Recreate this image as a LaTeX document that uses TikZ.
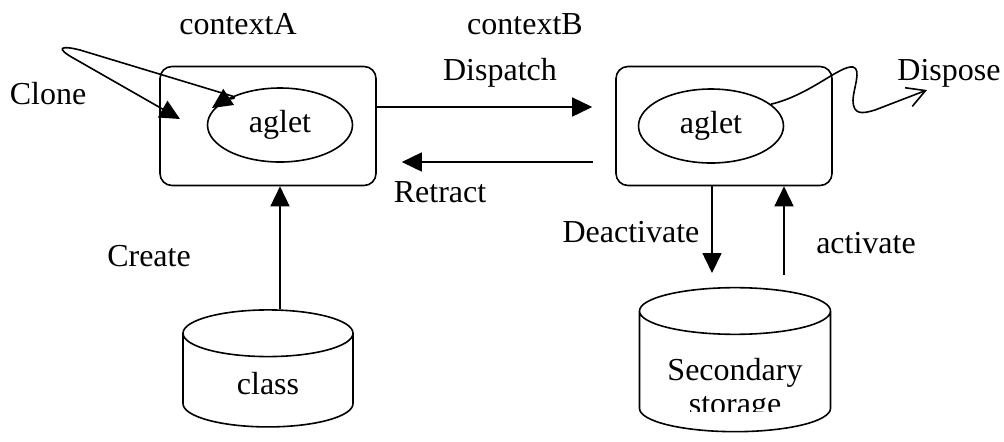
\documentclass[tikz,border=0pt]{standalone}
\usepackage{fontspec}
\setmainfont{Liberation Serif}
\usetikzlibrary{shapes.geometric,arrows.meta}

\tikzset{
  ctxbox/.style={draw, line width=0.8pt, rounded corners=6pt, minimum width=108pt, minimum height=59.5pt},
  agletnode/.style={draw, ellipse, line width=0.8pt, minimum width=72.5pt, minimum height=37pt, inner sep=0pt},
  store/.style={draw, cylinder, shape border rotate=90, line width=0.8pt, aspect=3.5},
  arr/.style={line width=0.8pt, -{Triangle[length=10pt,width=9.5pt]}}
}

\begin{document}
\begin{tikzpicture}[x=0.5pt,y=-0.5pt, every node/.style={font=\fontsize{16}{17}\selectfont}]
\useasboundingbox (0,0) rectangle (1004,441);

% contextA
\node (ctxAlbl) at (238,24) {contextA};
\node[ctxbox] (ctxA) at (268,126) {};
\node[agletnode] (aglA) at (280,125) {aglet};

% contextB
\node (ctxBlbl) at (525,24) {contextB};
\node[ctxbox] (ctxB) at (724,126) {};
\node[agletnode] (aglB) at (711,126) {aglet};

% Dispatch / Retract
\draw[arr] ([yshift=9.5pt]ctxA.east) -- ([xshift=-11.5pt,yshift=9.5pt]ctxB.west);
\node (dispatch) at (500,73) {Dispatch};
\draw[arr] ([xshift=-11pt,yshift=-18pt]ctxB.west) -- ([xshift=12.5pt,yshift=-18pt]ctxA.east);
\node (retract) at (440,192) {Retract};

% Clone
\coordinate (cloneLow) at (180,119);
\coordinate (cloneUp) at (212,108);
\draw[line width=0.8pt, {Triangle[length=10pt,width=9.5pt]}-{Triangle[length=10pt,width=9.5pt]}]
  (cloneLow) -- (75,59) .. controls (55,48) and (60,45) .. (80,50) -- (232,96)
  .. controls (240,99) and (224,100) .. (cloneUp);
\node (clone) at (48,94) {Clone};

% Dispose
\coordinate (disposeTip) at (927,90);
\draw[line width=0.8pt, -{Straight Barb[length=9pt,width=10pt]}]
  (aglB.20) .. controls (810,95) and (840,65) .. (853,67)
  .. controls (862,69) and (853,90) .. (853,100)
  .. controls (853,115) and (862,114) .. (875,110) -- (disposeTip);
\node (dispose) at (949,73) {Dispose};

% class storage
\node[store, minimum width=85pt, minimum height=58.5pt] (class) at (268,385) {};
\node (classlbl) at (268,384) {class};
\draw[arr] ([xshift=6pt]class.north) -- ([xshift=6pt]ctxA.south);
\node (create) at (149,256) {Create};

% secondary storage
\node[store, minimum width=95.5pt, minimum height=72pt] (secstore) at (735,376) {};
\begin{scope}
  \clip (600,290) rectangle (860,411);
  \node[align=center] (seclbl) at (735,390) {Secondary\\storage};
\end{scope}
\coordinate (deacEnd) at (712,273);
\coordinate (actStart) at (784,275);
\draw[arr] ([xshift=-6pt]ctxB.south) -- (deacEnd);
\draw[arr] (actStart) -- ([xshift=30pt]ctxB.south);
\node (deactivate) at (631,232) {Deactivate};
\node (activate) at (866,243) {activate};
\end{tikzpicture}
\end{document}
